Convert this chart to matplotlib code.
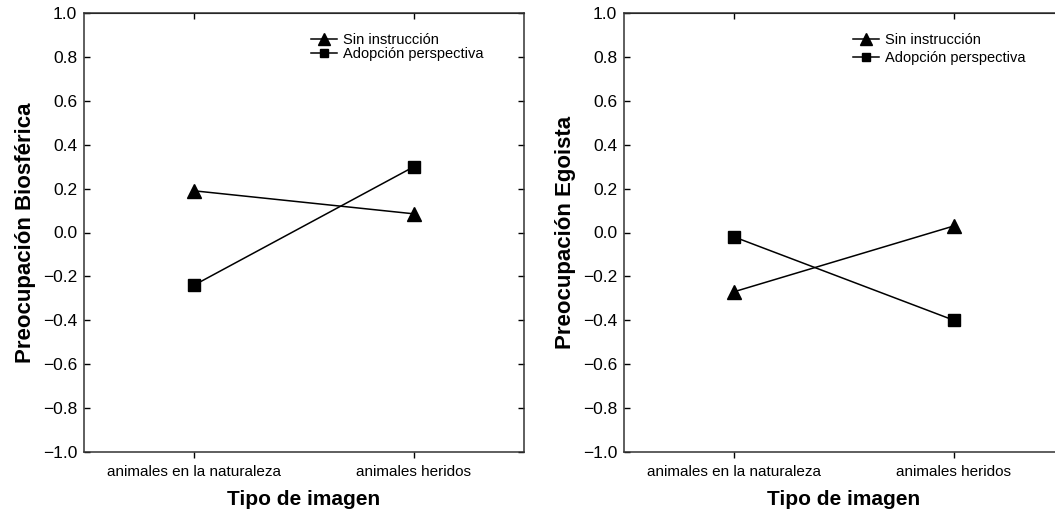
import numpy as np
import matplotlib.pyplot as plt

plt.rcParams['font.family'] = ['Liberation Sans', 'DejaVu Sans']

# categories on the x axis
categorias = ['animales en la naturaleza', 'animales heridos']
series = ['Sin instrucción', 'Adopción perspectiva']

# left panel: biospheric concern
biosferica_sin = [0.19, 0.085]
biosferica_adop = [-0.24, 0.30]

# right panel: egoistic concern
egoista_sin = [-0.27, 0.03]
egoista_adop = [-0.02, -0.40]

yticks = np.round(np.arange(-1.0, 1.01, 0.2), 1)


def fmt(v):
    if abs(v) < 1e-9:
        return '0.0'
    return ('\u2212%.1f' % -v) if v < 0 else '%.1f' % v


fig = plt.figure(figsize=(10.55, 5.2), dpi=100)
ax1 = fig.add_axes([84/1055, 68/520, 440/1055, 439/520])
ax2 = fig.add_axes([624/1055, 68/520, 440/1055, 439/520])


def panel(ax, sin, adop, ylabel, leg_size, leg_anchor, leg_spacing):
    x = np.arange(len(categorias))
    ax.plot(x, sin, color='black', lw=1.1, marker='^', ms=10, label=series[0])
    ax.plot(x, adop, color='black', lw=1.1, marker='s', ms=8, label=series[1])
    ax.set_xlim(-0.5, 1.5)
    ax.set_ylim(-1.0, 1.0)
    ax.set_yticks(yticks)
    ax.set_yticklabels([fmt(v) for v in yticks], fontsize=12.5)
    ax.set_xticks(x)
    ax.set_xticklabels(categorias, fontsize=11)
    ax.tick_params(axis='x', direction='out', length=4, width=1, pad=5)
    ax.tick_params(axis='y', direction='in', length=4, width=1, left=True, right=True, pad=5)
    top = ax.secondary_xaxis('top')
    top.set_xticks(x)
    top.tick_params(direction='in', length=4, width=1, labeltop=False)
    for sp in ax.spines.values():
        sp.set_color('#333333')
        sp.set_linewidth(1.1)
    ax.set_ylabel(ylabel, fontsize=16, fontweight='bold', labelpad=5)
    ax.set_xlabel('Tipo de imagen', fontsize=15, fontweight='bold', labelpad=8)
    ax.legend(loc='upper left', bbox_to_anchor=leg_anchor, frameon=False,
              fontsize=leg_size, borderpad=0, borderaxespad=0,
              handlelength=1.8, handletextpad=0.4, labelspacing=leg_spacing,
              markerscale=0.8)


panel(ax1, biosferica_sin, biosferica_adop, 'Preocupación Biosférica',
      10.5, (0.515, 0.955), 0.0)
panel(ax2, egoista_sin, egoista_adop, 'Preocupación Egoista',
      10.5, (0.52, 0.955), 0.3)

fig.savefig('out.png', dpi=100)
